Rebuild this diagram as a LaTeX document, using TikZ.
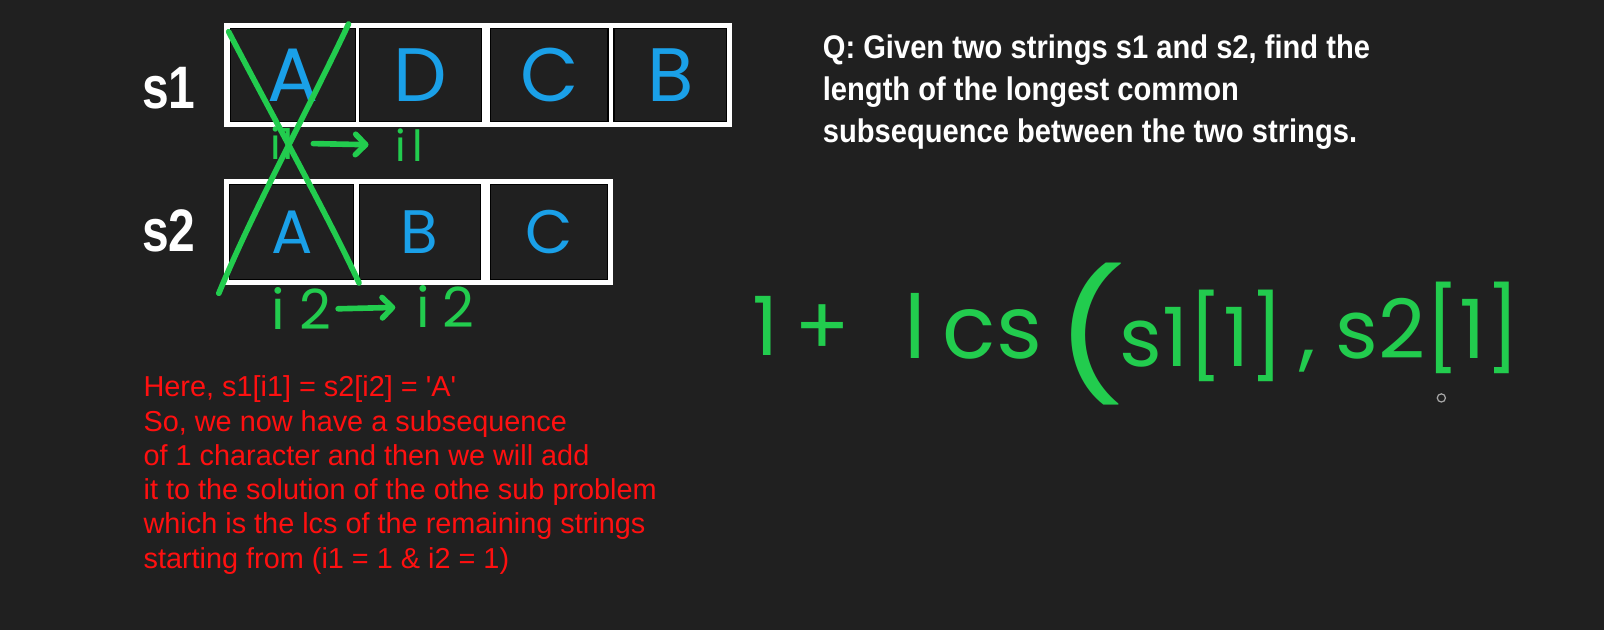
\documentclass[tikz,border=0pt]{standalone}
\usepackage{fontspec}
\setmainfont{Liberation Sans}
\newfontfamily\condbold{Liberation Sans}[FakeStretch=0.8]
\newfontfamily\qfont{Liberation Sans}[FakeStretch=0.89]
\newfontfamily\hand{Poppins}
\usetikzlibrary{arrows.meta}
\definecolor{bg}{HTML}{202020}
\definecolor{hgreen}{HTML}{22CC4E}
\definecolor{hblue}{HTML}{1AA0E8}
\definecolor{tred}{HTML}{FF1010}
\tikzset{
  cell/.style={draw=black, line width=0.5pt, fill=bg, inner sep=0pt, text=hblue},
  big/.style={font=\hand\fontsize{37}{37}\selectfont},
  mid/.style={font=\hand\fontsize{30}{30}\selectfont},
  lbl/.style={text=white, inner sep=0pt, anchor=base west, font=\condbold\bfseries\fontsize{29.3}{30}\selectfont},
  qline/.style={text=white, inner sep=0pt, anchor=base west, font=\qfont\bfseries\fontsize{16}{18}\selectfont},
  rline/.style={text=tred, inner sep=0pt, anchor=base west, font=\fontsize{14.1}{16}\selectfont},
  hw/.style={text=hgreen, inner sep=0pt, font=\hand\fontsize{21}{21}\selectfont},
  hf/.style={text=hgreen, inner sep=0pt, anchor=base west, font=\hand\fontsize{40}{40}\selectfont},
  gstroke/.style={draw=hgreen, line width=2.75pt, line cap=round, line join=round},
  garrow/.style={gstroke, -{Straight Barb[length=5pt,width=10pt,round]}}
}
\begin{document}
\begin{tikzpicture}[x=0.5pt,y=-0.5pt]
\fill[bg] (0,0) rectangle (1568,616);
\useasboundingbox (0,0) rectangle (1568,616);

% frames
\fill[white] (219,22) rectangle (716,124.5);
\fill[white] (218.6,175.3) rectangle (599,278.6);

% s1 cells
\node[cell, big, minimum width=60.85pt, minimum height=45.65pt] (a1) at (286.4,73.4) {A};
\node[cell, big, minimum width=59.5pt, minimum height=45.65pt] (a2) at (411.3,73.4) {D};
\node[cell, big, minimum width=57.35pt, minimum height=45.65pt] (a3) at (537,73.4) {C};
\node[cell, big, minimum width=55.1pt, minimum height=45.65pt] (a4) at (655.3,73.4) {B};

% s2 cells
\node[cell, mid, minimum width=60.65pt, minimum height=46.1pt] (b1) at (285.35,226.9) {A};
\node[cell, mid, minimum width=59.35pt, minimum height=46.1pt] (b2) at (410.35,226.9) {B};
\node[cell, mid, minimum width=57.2pt, minimum height=46.1pt] (b3) at (536.5,226.9) {C};

% labels
\node[lbl] (s1) at (138.5,105.6) {s1};
\node[lbl] (s2) at (138.5,246) {s2};

% green X
\draw[gstroke] (223.5,31) .. controls (270,120) and (320,210) .. (351,276.6);
\draw[gstroke] (340.7,23.5) .. controls (300,110) and (250,200) .. (213.9,286.7);

% i1 -> i1
\node[hw] (i1a) at (276,140) {i1};
\node[hw] (i1b) at (400,142) {i\kern3pt l};
\draw[garrow, shorten <=9pt, shorten >=13pt] (i1a.east) -- (i1b.west);

% i2 -> i2
\node[hw, font=\hand\fontsize{27}{27}\selectfont] (i2a) at (295,302) {i\kern7pt 2};
\node[hw, font=\hand\fontsize{27}{27}\selectfont] (i2b) at (435,300) {i\kern6pt 2};
\draw[garrow, shorten <=3pt, shorten >=10pt] (i2a.east) -- (i2b.west);

% question
\node[qline] (q1) at (804,57.5) {Q: Given two strings s1 and s2, find the};
\node[qline] (q2) at (804,98.5) {length of the longest common};
\node[qline] (q3) at (804,139) {subsequence between the two strings.};

% formula
\node[hf] (f1) at (735,348) {1\kern8pt+};
\node[hf, font=\hand\fontsize{43}{43}\selectfont] (f2) at (884,350) {l\kern8pt cs};
\node[text=hgreen, inner sep=0pt, font=\hand\fontsize{62}{62}\selectfont] (f3) at (1066,327) {\scalebox{1.25}[1]{(}};
\node[hf] (f4) at (1094,358) {s1[1]};
\node[hf] (f5) at (1270,352) {,};
\node[hf] (f6) at (1305,350) {s2[1]};
\draw[gray!70, line width=0.6pt] (1409,389) circle (2pt);

% red explanation
\node[rline] (r1) at (140,388) {Here, s1[i1] = s2[i2] = \textquotesingle A\textquotesingle};
\node[rline] (r2) at (140,421.5) {So, we now have a subsequence};
\node[rline] (r3) at (140,455) {of 1 character and then we will add};
\node[rline] (r4) at (140,488.5) {it to the solution of the othe sub problem};
\node[rline] (r5) at (140,522) {which is the lcs of the remaining strings};
\node[rline] (r6) at (140,555.5) {starting from (i1 = 1 \& i2 = 1)};
\end{tikzpicture}
\end{document}
